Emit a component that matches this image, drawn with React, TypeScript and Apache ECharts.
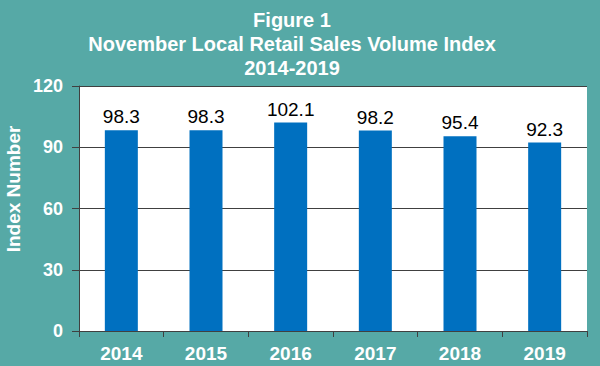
import React, { useEffect, useRef } from "react";
import * as echarts from "echarts";

const categories = ["2014", "2015", "2016", "2017", "2018", "2019"];
const values = [98.3, 98.3, 102.1, 98.2, 95.4, 92.3];
const yTicks = [0, 30, 60, 90, 120];
const titleLines = ["Figure 1", "November Local Retail Sales Volume Index", "2014-2019"];
const yAxisTitle = "Index Number";

export default function App() {
  const ref = useRef<HTMLDivElement>(null);
  useEffect(() => {
    if (!ref.current) return;
    const chart = echarts.init(ref.current, null, { renderer: "svg" });
    const font = "'Liberation Sans', Arial, sans-serif";
    chart.setOption({
      animation: false,
      backgroundColor: "#56A9A6",
      title: {
        text: titleLines.join("\n"),
        left: 287,
        top: 3,
        textAlign: "center",
        textStyle: {
          color: "#ffffff",
          fontFamily: font,
          fontWeight: "bold",
          fontSize: 20,
          lineHeight: 24,
        },
      },
      graphic: [
        {
          type: "text",
          x: 4,
          y: 189,
          rotation: Math.PI / 2,
          style: {
            text: yAxisTitle,
            fill: "#ffffff",
            font: `bold 19px ${font}`,
            align: "center",
            verticalAlign: "top",
          },
        },
      ],
      grid: {
        left: 79,
        right: 13,
        top: 86,
        bottom: 35,
        containLabel: false,
        show: true,
        backgroundColor: "#ffffff",
        borderWidth: 0,
      },
      xAxis: {
        type: "category",
        data: categories,
        axisLine: { show: true, lineStyle: { color: "#404040", width: 1 } },
        axisTick: { show: true, length: 6, lineStyle: { color: "#404040" } },
        axisLabel: {
          color: "#ffffff",
          fontFamily: font,
          fontWeight: "bold",
          fontSize: 19,
          margin: 13,
        },
      },
      yAxis: {
        type: "value",
        min: yTicks[0],
        max: yTicks[yTicks.length - 1],
        interval: 30,
        axisLine: { show: true, lineStyle: { color: "#404040", width: 1 } },
        axisTick: { show: true, length: 7, inside: false, lineStyle: { color: "#404040" } },
        axisLabel: {
          color: "#ffffff",
          fontFamily: font,
          fontWeight: "bold",
          fontSize: 18,
          margin: 16,
        },
        splitLine: { show: true, lineStyle: { color: "#404040", width: 1 } },
      },
      series: [
        {
          type: "bar",
          data: values,
          barWidth: 33,
          itemStyle: { color: "#0070C0" },
          label: {
            show: true,
            position: "top",
            distance: 4,
            color: "#000000",
            fontFamily: font,
            fontSize: 19,
            formatter: (p: any) => p.value.toFixed(1),
          },
        },
      ],
    });
    return () => chart.dispose();
  }, []);
  return (
    <div
      ref={ref}
      style={{ width: 600, height: 366, position: "absolute", left: 0, top: 0, background: "#ffffff" }}
    />
  );
}
